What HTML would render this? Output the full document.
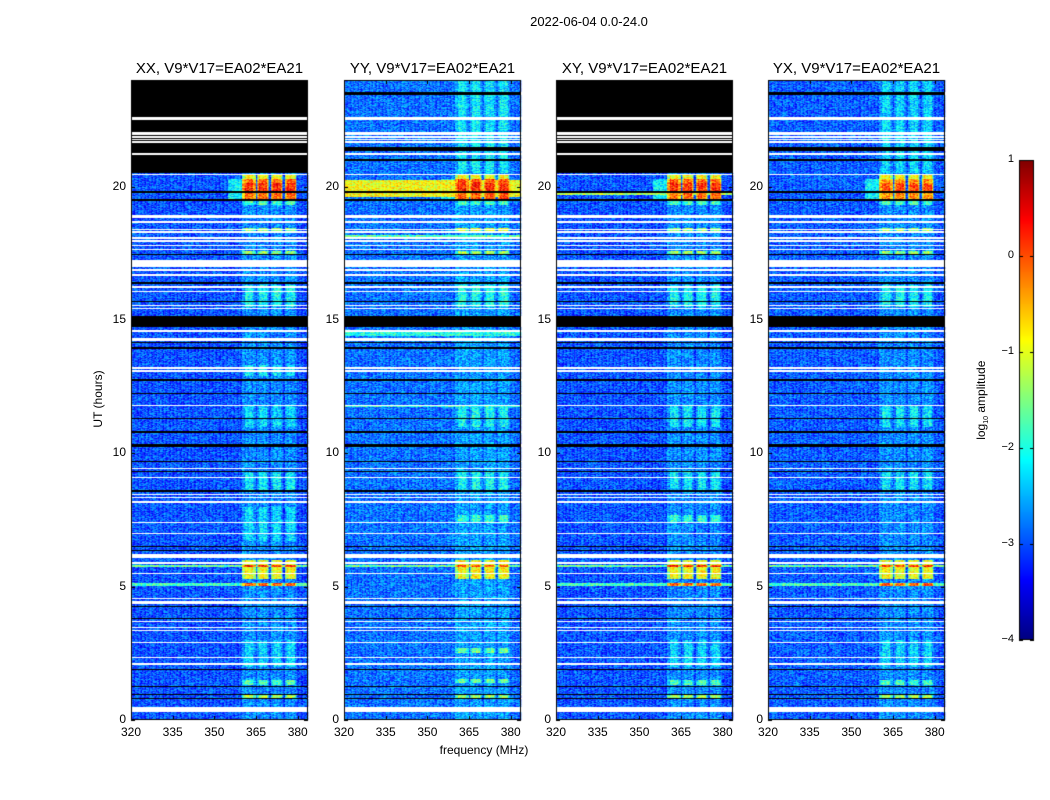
<!DOCTYPE html>
<html><head><meta charset="utf-8">
<style>
body{margin:0;background:#fff;}
#wrap{position:relative;width:1050px;height:800px;font-family:"Liberation Sans",sans-serif;color:#000;overflow:hidden;}
.t{position:absolute;white-space:nowrap;}
canvas{position:absolute;left:0;top:0;}
</style></head>
<body>
<div id="wrap">
<canvas id="cv" width="1050" height="800"></canvas>
<div class="t" style="left:489px;top:14px;width:200px;text-align:center;font-size:13px;">2022-06-04 0.0-24.0</div>
<div class="t" style="left:384px;top:743px;width:200px;text-align:center;font-size:12px;">frequency (MHz)</div>
<div class="t" style="left:48px;top:392px;width:100px;text-align:center;font-size:12px;transform:rotate(-90deg);">UT (hours)</div>
<div class="t" style="left:932px;top:392px;width:100px;text-align:center;font-size:12px;transform:rotate(-90deg);">log<sub style="font-size:7px">10</sub> amplitude</div>
<div id="labels"></div>
</div>
<script>
// ---- data ----
const panelTitles = ["XX, V9*V17=EA02*EA21","YY, V9*V17=EA02*EA21","XY, V9*V17=EA02*EA21","YX, V9*V17=EA02*EA21"];
const xTicks = [320,335,350,365,380];
const yTicks = [0,5,10,15,20];
const cbTicks = [1,0,-1,-2,-3,-4];
const spwRanges = [[360,365],[365.3,369.6],[370.4,374.7],[375.4,379.7]];
const bgLevel = [-3.0,-2.85,-3.0,-2.95];
const spwLevel = [-2.7,-2.6,-2.7,-2.7];
const topBlack = [true,false,true,false]; // 20.5-24 fully flagged
const whiteFlags = [[22.5,22.6],[21.95,22.05],[21.85,21.9],[21.75,21.8],[21.65,21.7],[21.2,21.27],[20.42,20.48],
 [18.85,18.92],[18.65,18.72],[18.38,18.43],[18.27,18.32],[18.05,18.12],[17.95,18.0],[17.78,17.83],[17.62,17.67],[17.0,17.25],
 [16.85,16.9],[16.67,16.72],[16.2,16.27],[16.05,16.1],[15.52,15.57],[15.42,15.47],[14.57,14.62],[14.2,14.35],[13.18,13.23],[13.07,13.12],
 [11.78,11.83],[9.42,9.47],[9.07,9.12],[8.42,8.47],[8.32,8.37],[8.13,8.2],[7.38,7.43],[6.98,7.03],[6.08,6.22],[5.87,5.92],[5.48,5.52],[5.23,5.27],
 [4.53,4.58],[4.37,4.47],[3.68,3.72],[3.43,3.47],[3.33,3.37],[2.88,2.92],[2.33,2.37],[2.08,2.12],[0.3,0.5]];
const blackFlags = [[23.45,23.55],[21.35,21.48],[20.98,21.05],[19.76,19.84],[19.48,19.53],[17.42,17.48],[16.37,16.43],[15.67,15.73],[14.75,15.15],
 [14.12,14.17],[13.93,13.98],[12.72,12.78],[12.22,12.28],[11.28,11.33],[10.78,10.83],[10.25,10.35],[9.68,9.73],[9.3,9.35],[8.55,8.65],
 [6.48,6.52],[6.33,6.37],[4.23,4.27],[3.78,3.82],[1.88,1.92],[1.23,1.27],[0.93,0.97],[0.78,0.82]];
// events: [t0, t1, "spw"|"all", log amplitude]
const events0 = [[19.55,20.3,"spw",-0.1],[19.85,20.15,"spw",0.2],[20.3,20.42,"spw",-0.9],[19.3,19.55,"spw",-1.8],[18.3,18.45,"spw",-1.4],[17.45,17.6,"spw",-1.4],
 [15.5,16.3,"spw",-2.1],[12.9,13.3,"spw",-2.2],[11.0,11.8,"spw",-2.3],[8.6,9.3,"spw",-2.2],[6.7,8.0,"spw",-2.3],[5.3,6.0,"spw",-0.9],[5.75,5.82,"spw",0.3],[5.75,5.82,"all",-1.6],[5.05,5.12,"spw",-0.1],[5.05,5.12,"all",-1.8],
 [2.0,3.0,"spw",-2.3],[1.3,1.5,"spw",-1.8],[0.85,0.95,"spw",-1.3]];
const events1 = [[19.55,20.3,"spw",0.05],[19.85,20.15,"spw",0.25],[19.6,20.25,"all",-0.9],[20.3,20.42,"spw",-0.9],[19.3,19.55,"spw",-1.8],[18.35,18.45,"spw",-1.0],[18.1,18.2,"all",-1.7],
 [20.5,24,"spw",-2.2],[17.45,17.6,"spw",-1.3],[15.5,16.3,"spw",-2.0],[14.4,14.55,"all",-2.0],[11.72,11.78,"all",-1.9],[11.0,11.8,"spw",-2.1],[8.6,9.3,"spw",-2.1],[5.3,6.0,"spw",-0.85],[5.75,5.82,"spw",0.0],[5.75,5.82,"all",-1.6],
 [2.5,2.7,"spw",-1.6],[1.4,1.55,"spw",-1.6],[0.85,0.95,"spw",-1.4],[7.4,7.7,"spw",-1.9]];
const events2 = [[19.55,20.3,"spw",-0.1],[19.85,20.15,"spw",0.2],[19.7,19.85,"all",-1.3],[20.3,20.42,"spw",-0.9],[19.3,19.55,"spw",-1.8],[18.3,18.45,"spw",-1.4],[17.45,17.6,"spw",-1.4],
 [15.5,16.3,"spw",-2.1],[11.0,11.8,"spw",-2.2],[8.6,9.3,"spw",-2.2],[5.3,6.0,"spw",-0.9],[5.75,5.82,"spw",0.3],[5.75,5.82,"all",-1.6],[5.05,5.12,"spw",-0.1],[5.05,5.12,"all",-1.8],[2.0,3.0,"spw",-2.3],[1.3,1.5,"spw",-1.8],[0.85,0.95,"spw",-1.3],[7.4,7.7,"spw",-1.9]];
const events3 = [[19.55,20.3,"spw",-0.3],[19.85,20.15,"spw",0.0],[20.3,20.42,"spw",-0.9],[19.3,19.55,"spw",-1.8],[18.3,18.45,"spw",-1.4],[17.45,17.6,"spw",-1.4],
 [20.5,24,"spw",-2.3],[15.5,16.3,"spw",-2.1],[11.0,11.8,"spw",-2.2],[8.6,9.3,"spw",-2.2],[5.3,6.0,"spw",-0.9],[5.75,5.82,"spw",0.2],[5.75,5.82,"all",-1.6],[5.05,5.12,"spw",-0.1],[5.05,5.12,"all",-1.8],[2.0,3.0,"spw",-2.3],[1.3,1.5,"spw",-1.8],[0.85,0.95,"spw",-1.3]];
const panelEvents = [events0,events1,events2,events3];

// ---- layout ----
const panelLeft = [131,344,556,768];
const PW = 177, PT = 80, PH = 640;
const FMIN = 320, FMAX = 383.7, TMIN = 0, TMAX = 24;
const CB = {x:1019,y:160,w:15,h:480,vmin:-4,vmax:1};
function xScale(p,f){return panelLeft[p] + (f-FMIN)/(FMAX-FMIN)*PW;}
function yScale(t){return PT + PH - (t-TMIN)/(TMAX-TMIN)*PH;}
function jet(v){
  let x = Math.max(0,Math.min(1,(v-CB.vmin)/(CB.vmax-CB.vmin)));
  const c = s=>Math.max(0,Math.min(1,s));
  const r=c(1.5-Math.abs(4*x-3)), g=c(1.5-Math.abs(4*x-2)), b=c(1.5-Math.abs(4*x-1));
  return `rgb(${Math.round(r*255)},${Math.round(g*255)},${Math.round(b*255)})`;
}
function tex(i,j,p){ // visual grain only
  let h = (i*374761393 + j*668265263 + p*2147483647) | 0;
  h = Math.imul(h ^ (h>>>13),1274126177); h ^= h>>>16;
  return ((h>>>0)%1000)/1000 - 0.5;
}
const cv=document.getElementById('cv'), ctx=cv.getContext('2d');
const DF=0.5, DT=0.02;
const inSpw = f=>spwRanges.some(r=>f>=r[0]&&f<r[1]);
const edgeSpw = f=>spwRanges.some(r=>f>=r[0]&&f<r[0]+0.8 || f>=r[1]-0.8&&f<r[1]);
const inList=(t,l)=>l.some(r=>t>=r[0]&&t<r[1]);

for(let p=0;p<4;p++){
  for(let ti=0; ti*DT<TMAX-1e-9; ti++){
    const t=ti*DT+DT/2;
    const y0=Math.round(yScale(ti*DT+DT)), y1=Math.round(yScale(ti*DT));
    if(y1<=y0) continue;
    let rowCol=null;
    if(inList(t,whiteFlags)) rowCol='#fff';
    else if(inList(t,blackFlags) || (topBlack[p] && t>20.5)) rowCol='#000';
    if(rowCol){ctx.fillStyle=rowCol;ctx.fillRect(panelLeft[p],y0,PW,y1-y0);continue;}
    for(let fi=0; FMIN+fi*DF<FMAX; fi++){
      const f=FMIN+fi*DF+DF/2;
      const sp=inSpw(f);
      let v = sp ? spwLevel[p] : bgLevel[p];
      if(f>381) v=bgLevel[p]-0.05;
      for(const e of panelEvents[p]){
        if(t>=e[0]&&t<e[1]){
          if(e[2]==="all") v=Math.max(v,e[3]);
          else if(sp) v=Math.max(v, edgeSpw(f)? e[3]-0.5 : e[3]);
          else if(f>355 && f<360 && e[3]>-0.5) v=Math.max(v,-2.2);
        }
      }
      v += tex(ti,fi,p)*0.95;
      ctx.fillStyle=jet(v);
      const x0=xScale(p,FMIN+fi*DF), x1=Math.min(xScale(p,FMIN+fi*DF+DF),panelLeft[p]+PW);
      ctx.fillRect(x0,y0,x1-x0+0.3,y1-y0);
    }
  }
  ctx.strokeStyle='#000';ctx.lineWidth=1;
  ctx.strokeRect(panelLeft[p]+0.5,PT+0.5,PW-1,PH-1);
  ctx.beginPath();
  xTicks.forEach(f=>{const x=Math.round(xScale(p,f))+0.5;ctx.moveTo(x,PT+PH);ctx.lineTo(x,PT+PH-4);ctx.moveTo(x,PT);ctx.lineTo(x,PT+4);});
  yTicks.forEach(t=>{const y=Math.round(yScale(t))+0.5;ctx.moveTo(panelLeft[p],y);ctx.lineTo(panelLeft[p]+4,y);ctx.moveTo(panelLeft[p]+PW,y);ctx.lineTo(panelLeft[p]+PW-4,y);});
  ctx.stroke();
}
// colorbar
for(let k=0;k<CB.h;k++){
  const v=CB.vmax-(k+0.5)/CB.h*(CB.vmax-CB.vmin);
  ctx.fillStyle=jet(v);ctx.fillRect(CB.x,CB.y+k,CB.w,1);
}
ctx.strokeRect(CB.x+0.5,CB.y+0.5,CB.w-1,CB.h-1);
ctx.beginPath();
cbTicks.forEach(v=>{const y=Math.round(CB.y+(CB.vmax-v)/(CB.vmax-CB.vmin)*CB.h)+0.5;ctx.moveTo(CB.x,y);ctx.lineTo(CB.x+4,y);ctx.moveTo(CB.x+CB.w,y);ctx.lineTo(CB.x+CB.w-4,y);});
ctx.stroke();

// labels
const L=document.getElementById('labels');
function lab(txt,x,y,w,align,size,name){
  const d=document.createElement('div');d.className='t';
  d.style.left=x+'px';d.style.top=y+'px';d.style.width=w+'px';d.style.textAlign=align;d.style.fontSize=size+'px';
  d.textContent=txt;
  
  
  L.appendChild(d);
}
for(let p=0;p<4;p++){
  lab(panelTitles[p],panelLeft[p]+PW/2-130,60,260,'center',15,'panel-title');
  xTicks.forEach(f=>lab(String(f),xScale(p,f)-20,725,40,'center',12,'x-tick-label'));
  yTicks.forEach(t=>lab(String(t),panelLeft[p]-45,yScale(t)-8,40,'right',12,'y-tick-label'));
}
cbTicks.forEach(v=>lab(String(v).replace('-','\u2212'),CB.x-45,CB.y+(CB.vmax-v)/(CB.vmax-CB.vmin)*CB.h-7,40,'right',11,'colorbar-tick-label'));
</script>
</body></html>
